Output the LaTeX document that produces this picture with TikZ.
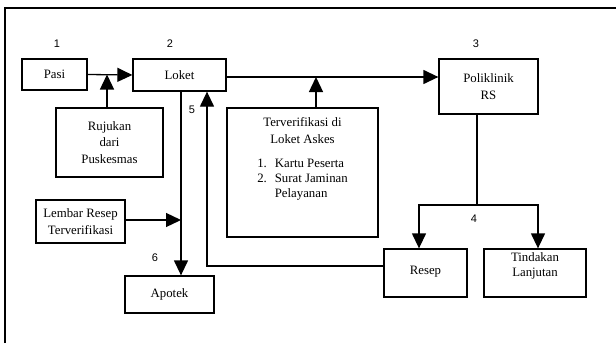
\documentclass[tikz,border=0pt]{standalone}
\usepackage{fontspec}
\setmainfont{Liberation Serif}
\newfontfamily\numfont{Liberation Sans}
\usepackage{tikz}
\usetikzlibrary{
    arrows.meta,
    positioning
}

\tikzset{
    box/.style={draw, line width=1.3pt, inner sep=1pt, align=center,
        font=\fontsize{12.8}{16.5}\selectfont},
    arr/.style={line width=1.3pt, -{Triangle[length=15pt, width=14pt]}},
    conn/.style={line width=1.3pt},
    num/.style={font=\numfont\fontsize{11}{13}\selectfont, inner sep=0pt}
}

\begin{document}
\begin{tikzpicture}[x=1pt, y=-1pt]
                        \useasboundingbox (0, 0) rectangle (616, 343);
                        \draw[line width=1.6pt] (5, 343) -- (5, 8) -- (616, 8);

                        \node[box, minimum width=65, minimum height=31] (pasi) at (54.5, 74.5) {Pasi};
                        \node[box, minimum width=93, minimum height=32] (loket) at (179.5, 75) {Loket};
                        \node[box, minimum width=107, minimum height=69] (rujukan) at (109.5, 142.5) {Rujukan\\dari\\Puskesmas};
                        \node[box, minimum width=151, minimum height=129,
                            label={[anchor=north, align=center, inner sep=0pt, yshift=-10pt,
                                font=\fontsize{12.8}{16.5}\selectfont]north:Terverifikasi di\\Loket Askes\\[12pt]
                                \begin{tabular}{@{}r@{\hspace{8pt}}l@{}}1.&Kartu Peserta\\[-1.5pt]2.&Surat Jaminan\\[-1.5pt]&Pelayanan\end{tabular}}] (askes) at (302.5, 172.5) {};
                        \node[box, minimum width=99, minimum height=55] (poli) at (488.5, 86.5) {Poliklinik\\RS};
                        \node[box, minimum width=89, minimum height=43] (lembar) at (80.5, 221.5) {Lembar Resep\\Terverifikasi};
                        \node[box, minimum width=89, minimum height=37] (apotek) at (169.5, 294.5) {Apotek};
                        \node[box, minimum width=83, minimum height=48] (resep) at (425.5, 273) {\raisebox{6pt}{Resep}};
                        \node[box, minimum width=102, minimum height=48,
                            label={[anchor=north, align=center, inner sep=0pt, yshift=-4pt,
                                font=\fontsize{12.8}{15}\selectfont]north:Tindakan\\Lanjutan}] (tindakan) at (535, 273) {};

                        % step numbers
                        \node[num] (n1) at (57, 44) {1};
                        \node[num] (n2) at (170, 44) {2};
                        \node[num] (n3) at (476, 44) {3};
                        \node[num] (n4) at (474, 219) {4};
                        \node[num] (n5) at (192, 110) {5};
                        \node[num] (n6) at (155, 258) {6};

                        \coordinate (lk) at ([xshift=1.5]loket.south);
                        \coordinate (split) at ([xshift=-11.5]poli.south |- 0, 205);

                        \draw[arr] (pasi.east) -- (loket.west);
                        \draw[arr] ([xshift=-2.5]rujukan.north) -- ([xshift=-2.5]rujukan.north |- pasi.east);
                        \draw[arr] ([yshift=-2]loket.east) -- ([yshift=-2]loket.east -| poli.west);
                        \draw[arr] ([xshift=13.5]askes.north) -- ([xshift=13.5]askes.north |- 0, 77);
                        \draw[arr] (lk) -- (lk |- apotek.north);
                        \draw[arr] ([yshift=1.5]lembar.east) -- ([yshift=1.5]lembar.east -| lk);
                        \draw[arr] ([yshift=7]resep.west) -| ([xshift=27.5]loket.south);
                        \draw[conn] ([xshift=-11.5]poli.south) -- (split);
                        \draw[arr] (split) -| ([xshift=-6.5]resep.north);
                        \draw[arr] (split) -| ([xshift=3]tindakan.north);
                    \end{tikzpicture}
\end{document}
